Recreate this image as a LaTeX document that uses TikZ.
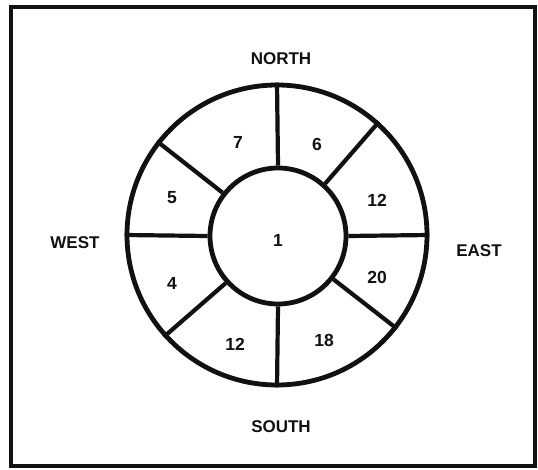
\documentclass[tikz,border=0pt]{standalone}
\usepackage{fontspec}
\setmainfont{Liberation Sans}
\usepackage{xcolor}
\definecolor{cpink}{HTML}{111111}
\usetikzlibrary{positioning}
\tikzset{
  cpframe/.style ={draw=cpink, line width=4pt},
  cpring/.style  ={circle, draw=cpink, fill=white, line width=4.8pt, inner sep=0pt,
                   font=\bfseries\fontsize{17.5}{20}\selectfont, text=cpink},
  cpspoke/.style ={draw=cpink, line width=4.2pt},
  cpnum/.style   ={font=\bfseries\fontsize{17.5}{20}\selectfont, text=cpink, inner sep=0pt},
  cpdir/.style   ={font=\bfseries\fontsize{17}{20}\selectfont, text=cpink, inner sep=0pt},
}

\begin{document}
\begin{tikzpicture}[x=1pt, y=1pt]
  \useasboundingbox (0,0) rectangle (538,469);
  \draw[cpframe] (11,3) rectangle (535,462);
  \node[cpring, minimum size=300pt] (rim) at (277,234) {};
  \node[cpring, minimum size=136pt, text height=22pt] (hub) at (278,233) {1};
  \foreach \a in {0,48,90,142,180,222,270,322}{
    \draw[cpspoke] (hub.\a) -- (rim.\a);}
  \foreach \n/\x/\y/\t in {1/238/327/7, 2/317/325/6, 3/377/269/12, 4/377/192/20,
                           5/324/129/18, 6/235/125/12, 7/172/186/4, 8/172/271/5}{
    \node[cpnum] (s\n) at (\x,\y) {\t};}
  \node[cpdir] (north) at (281,410) {NORTH};
  \node[cpdir] (south) at (281,42)  {SOUTH};
  \node[cpdir] (west)  at (75,226)  {WEST};
  \node[cpdir] (east)  at (479,218) {EAST};
\end{tikzpicture}
\end{document}
